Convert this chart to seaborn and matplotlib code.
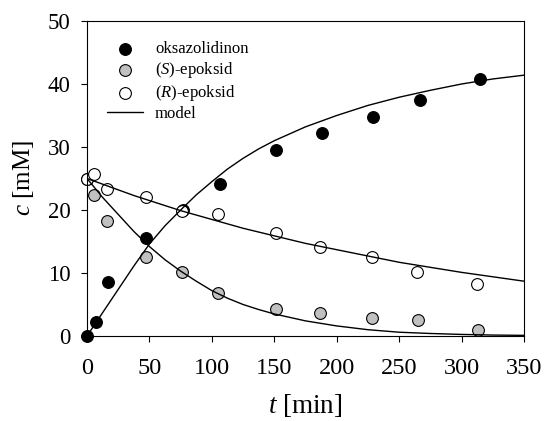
import matplotlib
matplotlib.use("Agg")
import matplotlib.pyplot as plt
import seaborn as sns
import pandas as pd

# measured points
t_oks = [0, 7.5, 17, 47.5, 77, 106.5, 151.5, 188, 229, 267, 314.5]
c_oks = [0, 2.2, 8.6, 15.5, 20.0, 24.1, 29.5, 32.3, 34.7, 37.4, 40.8]
t_s = [0, 6, 16, 47, 76, 105, 151, 187, 228, 265, 313]
c_s = [25.0, 22.4, 18.2, 12.6, 10.2, 6.8, 4.3, 3.6, 2.8, 2.5, 0.95]
t_r = [0, 6, 16, 47, 76, 105, 151, 187, 228, 264, 312.5]
c_r = [25.0, 25.7, 23.3, 22.1, 19.8, 19.3, 16.3, 14.2, 12.6, 10.2, 8.3]

# model curves
t_model = [0, 12.5, 25, 37.5, 50, 62.5, 75, 87.5, 100, 112.5, 125, 137.5, 150, 175, 200, 225, 250, 275, 300, 325, 350]
m_oks = [0, 3.7, 7.4, 11.1, 14.6, 17.5, 20.0, 22.4, 24.5, 26.5, 28.2, 29.7, 31.0, 33.2, 35.0, 36.6, 37.9, 39.0, 40.0, 40.8, 41.4]
m_s = [25.0, 22.0, 19.3, 16.6, 14.2, 12.1, 10.3, 8.7, 7.2, 6.0, 5.0, 4.2, 3.5, 2.4, 1.6, 1.0, 0.6, 0.4, 0.25, 0.15, 0.1]
m_r = [25.0, 24.1, 23.2, 22.3, 21.5, 20.7, 19.9, 19.2, 18.5, 17.8, 17.1, 16.5, 15.9, 14.7, 13.7, 12.7, 11.7, 10.9, 10.1, 9.4, 8.7]

sns.set_style("ticks")
plt.rcParams["font.family"] = ["Liberation Serif", "DejaVu Serif"]
plt.rcParams["mathtext.fontset"] = "custom"
plt.rcParams["mathtext.rm"] = "Liberation Serif"
plt.rcParams["mathtext.it"] = "Liberation Serif:italic"
for k in ["text.color", "axes.labelcolor", "xtick.color", "ytick.color", "axes.edgecolor"]:
    plt.rcParams[k] = "black"

fig = plt.figure(figsize=(5.46, 4.21), dpi=100)
ax = fig.add_axes([87 / 546, 85 / 421, 437 / 546, 315 / 421])

ms = 72
sns.scatterplot(x=t_oks, y=c_oks, ax=ax, color="black", edgecolor="black",
                s=ms, linewidth=0.8, label="oksazolidinon", zorder=3, clip_on=False)
sns.scatterplot(x=t_s, y=c_s, ax=ax, color="#c0c0c0", edgecolor="black",
                s=ms, linewidth=0.8, label="($\\mathit{S}$)-epoksid", zorder=3, clip_on=False)
sns.scatterplot(x=t_r, y=c_r, ax=ax, color="white", edgecolor="black",
                s=ms, linewidth=0.8, label="($\\mathit{R}$)-epoksid", zorder=3, clip_on=False)
sns.lineplot(x=t_model, y=m_oks, ax=ax, color="black", lw=1.0, label="model", zorder=4)
sns.lineplot(x=t_model, y=m_s, ax=ax, color="black", lw=1.0, zorder=4)
sns.lineplot(x=t_model, y=m_r, ax=ax, color="black", lw=1.0, zorder=4)

ax.set_xlim(0, 350)
ax.set_ylim(0, 50)
ax.set_xticks([0, 50, 100, 150, 200, 250, 300, 350])
ax.set_yticks([0, 10, 20, 30, 40, 50])
ax.tick_params(axis="both", direction="out", length=4, width=0.8,
               top=False, right=False, color="black", labelcolor="black")
ax.tick_params(axis="x", pad=11.5, labelsize=17.5)
ax.tick_params(axis="y", pad=8, labelsize=16.5)
for sp in ax.spines.values():
    sp.set_visible(True)
    sp.set_linewidth(0.8)
    sp.set_color("black")
    sp.set_zorder(5)
ax.set_xlabel("$t$ [min]", fontsize=19.5, labelpad=10)
ax.set_ylabel("$c$ [mM]", fontsize=18, labelpad=8)

ax.legend(loc="upper left", bbox_to_anchor=(0.045, 0.935), frameon=False,
          fontsize=12, borderaxespad=0, borderpad=0, labelspacing=0.17,
          handlelength=2.2, handletextpad=0.7)

fig.savefig("out.png", dpi=100)
